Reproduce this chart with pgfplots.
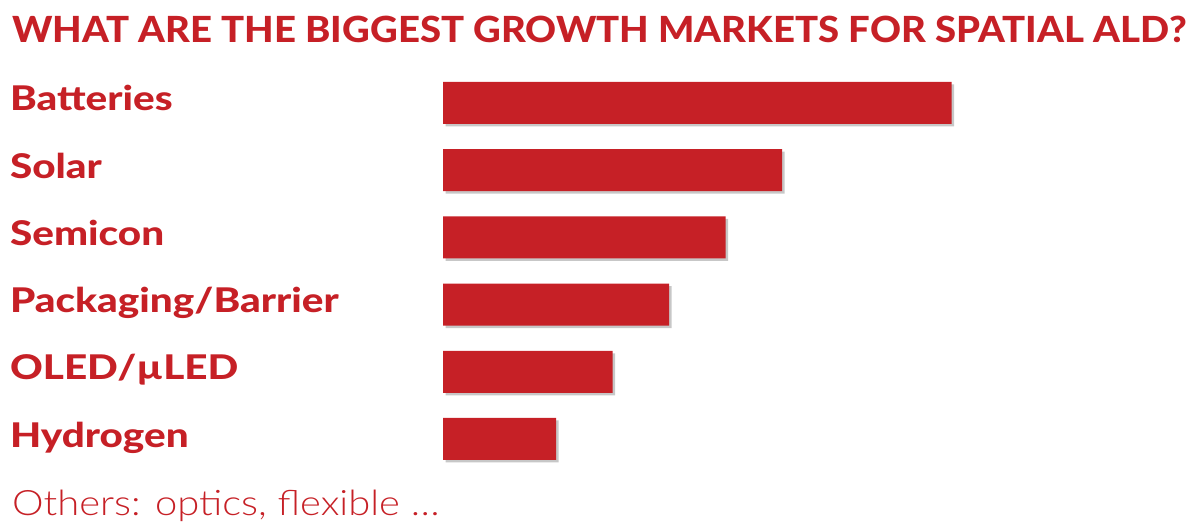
\documentclass[border=0pt]{standalone}
\usepackage{pgfplots}
\pgfplotsset{compat=1.18}
\usepackage{fontspec}
\setmainfont{Lato}
\IfFontExistsTF{Lato Heavy}{%
  \newfontfamily\titlefont[FakeStretch=1.064]{Lato Heavy}%
  \newfontfamily\labfont[FakeStretch=1.19]{Lato Heavy}%
}{%
  \newfontfamily\titlefont[FakeStretch=1.09]{Lato Bold}%
  \newfontfamily\labfont[FakeStretch=1.23]{Lato Bold}%
}
\IfFontExistsTF{Lato Light}{%
  \newfontfamily\lightfont[FakeStretch=1.14]{Lato Light}%
}{%
  \newfontfamily\lightfont[FakeStretch=1.14]{Lato}%
}
\definecolor{aldred}{HTML}{C62026}
\begin{document}
\begin{tikzpicture}
\path[use as bounding box] (0,0) rectangle (1193bp,530bp);
\node[anchor=base west, inner sep=0, text=aldred, font=\fontsize{36bp}{40bp}\titlefont] at (12bp,487bp) {WHAT ARE THE BIGGEST GROWTH MARKETS FOR SPATIAL ALD?};
\node[anchor=base west, inner sep=0, text=aldred, font=\fontsize{35bp}{38bp}\lightfont] at (12bp,15bp) {Others: optics, flexible \dots};
\begin{axis}[
  at={(443bp,23.8bp)}, anchor=south west,
  scale only axis, width=734.5bp, height=470.4bp,
  xmin=0, xmax=6.5, ymin=-1, ymax=6,
  axis lines=left, axis line style={draw=none},
  tick style={draw=none},
  xtick=\empty,
  ytick={0,1,2,3,4,5},
  yticklabels={Hydrogen,OLED/µLED,Packaging/Barrier,Semicon,Solar,Batteries},
  yticklabel style={anchor=base west, inner sep=0pt, xshift=-431bp, yshift=-8bp,
    font=\fontsize{34bp}{36bp}\labfont, text=aldred},
  clip=false,
]
\addplot[xbar, bar width=42bp, fill=black, fill opacity=0.22, draw=none, xshift=2.5bp, yshift=-2.5bp]
  coordinates {(1,0) (1.5,1) (2,2) (2.5,3) (3,4) (4.5,5)};
\addplot[xbar, bar width=42bp, fill=aldred, draw=none]
  coordinates {(1,0) (1.5,1) (2,2) (2.5,3) (3,4) (4.5,5)};
\end{axis}
\end{tikzpicture}
\end{document}
